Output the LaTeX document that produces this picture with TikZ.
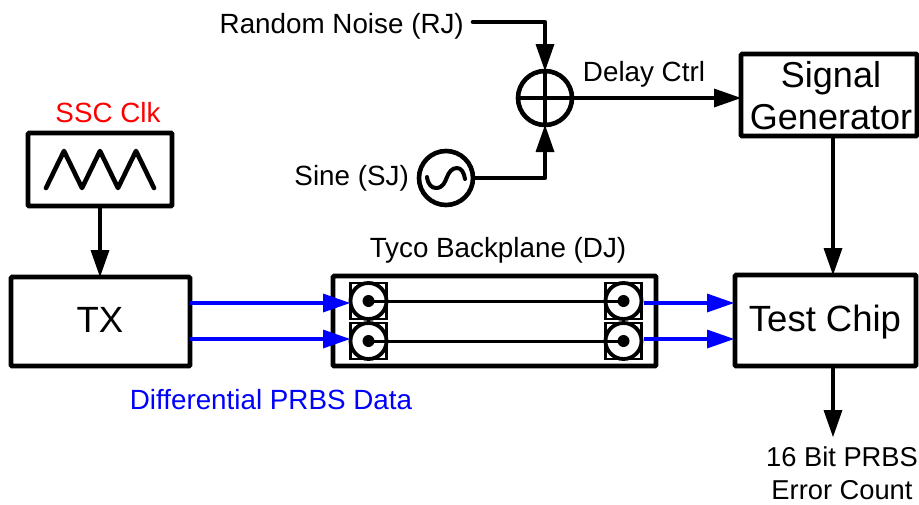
\documentclass[tikz,border=0pt]{standalone}
\usepackage{fontspec}
\setmainfont{Liberation Sans}
\usetikzlibrary{arrows.meta}
\definecolor{bblue}{RGB}{0,0,255}
\tikzset{
  blk/.style={draw=black,line width=4.6pt,rounded corners=1pt,fill=white,anchor=north west,inner sep=0pt,outer sep=0pt,align=center},
  wire/.style={draw=black,line width=4.6pt,line join=round},
  arr/.style={wire,-{Triangle[length=27pt,width=19pt,line width=0pt]}},
  barr/.style={draw=bblue,line width=4.6pt,-{Triangle[length=27pt,width=19pt,line width=0pt]}},
  lbl/.style={inner sep=0pt,font=\fontsize{27.8}{32}\selectfont,text=black,align=center},
  conn/.style={draw=black,line width=2.8pt,fill=white,outer sep=0pt},
  ring/.style={circle,draw=black,line width=3.8pt,fill=white,minimum size=36pt,inner sep=0pt,outer sep=0pt},
  pin/.style={circle,fill=black,minimum size=12pt,inner sep=0pt,outer sep=0pt},
  round/.style={circle,draw=black,line width=4.6pt,fill=white,minimum size=54pt,inner sep=0pt,outer sep=0pt},
}
\begin{document}
\begin{tikzpicture}[x=1pt,y=-1pt]
\useasboundingbox (0,0) rectangle (919,504);
% boxes
\node[blk,minimum width=144pt,minimum height=73pt] (ssc) at (28,133) {};
\node[blk,minimum width=179pt,minimum height=89pt] (tx) at (11,277) {};
\node[blk,minimum width=323pt,minimum height=90pt] (bp) at (333,276) {};
\node[blk,minimum width=181pt,minimum height=91pt] (tc) at (735,275) {};
\node[blk,minimum width=176pt,minimum height=82pt] (sg) at (741,54) {};
\node[lbl,font=\fontsize{36.5}{41}\selectfont] (tt) at (100,320) {TX};
\node[lbl,font=\fontsize{36.5}{41}\selectfont] (tcl) at (825,322) {Test Chip};
\node[lbl,font=\fontsize{36}{42}\selectfont] (sgl) at (831,96) {Signal\\Generator};
% triangle wave
\draw[wire,line cap=round] (46,188) -- (64,151) -- (82,188) -- (100,151) -- (118,188) -- (136,151) -- (154,188);
% summer
\node[round] (sum) at (545,98) {};
\draw[wire] (sum.west) -- (sum.east);
\draw[wire] (sum.north) -- (sum.south);
% sine source
\node[round] (sine) at (446,178) {};
\draw[wire,line cap=round,line width=4pt] (427,177) .. controls (428,185) and (432,188) .. (436,188) .. controls (443,188) and (445,182) .. (447,177) .. controls (449,172) and (452,168) .. (457,168) .. controls (461,168) and (464,172) .. (465,179);
% connectors
\coordinate (rjs) at (473,22);
\coordinate (sgout) at (833,136);
\coordinate (tcin) at (833,275);
\coordinate (tcout) at (833,366);
\coordinate (cnt) at (833,437);
\draw[arr,line cap=round] (rjs) -| (sum.north);
\draw[arr] (sine.east) -| (sum.south);
\draw[arr] (sum.east) -- (sum.east -| sg.west);
\draw[arr] (sgout) -- (tcin);
\draw[arr] (tcout) -- (cnt);
\draw[arr] (ssc.south) -- (ssc.south |- tx.north);
% backplane connectors
\foreach \n/\x/\y in {a/368.5/301,b/368.5/341,c/623.5/301,d/623.5/341}{
  \node[conn,minimum size=36pt,inner sep=0pt] (s\n) at (\x,\y) {};
  \node[ring] (r\n) at (\x,\y) {};
  \node[pin] (p\n) at (\x,\y) {};
}
\draw[black,line width=3pt] (pa.center) -- (pc.center);
\draw[black,line width=3pt] (pb.center) -- (pd.center);
% blue arrows
\coordinate (t1) at (190,303);
\coordinate (t2) at (190,339);
\coordinate (b1) at (350,303);
\coordinate (b2) at (350,339);
\coordinate (o1) at (644,303);
\coordinate (o2) at (644,339);
\coordinate (c1) at (734,303);
\coordinate (c2) at (734,339);
\draw[barr] (t1) -- (b1);
\draw[barr] (t2) -- (b2);
\draw[barr] (o1) -- (c1);
\draw[barr] (o2) -- (c2);
% labels
\node[lbl,text=red] (l1) at (108,113) {SSC Clk};
\node[lbl,anchor=east] (l2) at (464,26) {Random Noise (RJ)};
\node[lbl,anchor=east] (l3) at (409,178) {Sine (SJ)};
\node[lbl] (l4) at (644,74) {Delay Ctrl};
\node[lbl] (l5) at (498,250) {Tyco Backplane (DJ)};
\node[lbl,text=bblue] (l6) at (271,400) {Differential PRBS Data};
\node[lbl,font=\fontsize{27.3}{32.5}\selectfont] (l7) at (842,473) {16 Bit PRBS\\Error Count};
\end{tikzpicture}
\end{document}
